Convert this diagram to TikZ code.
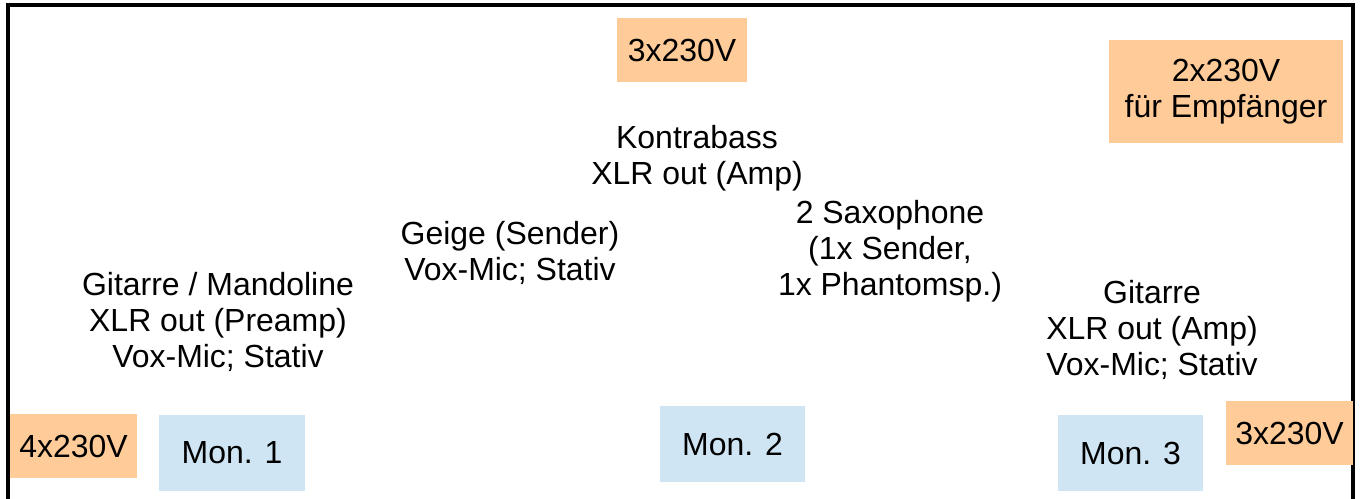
\documentclass[tikz,border=0pt]{standalone}
\usepackage{fontspec}
\setmainfont{Liberation Sans}
\definecolor{powerfill}{HTML}{FFCC99}
\definecolor{monfill}{HTML}{CFE5F3}
\begin{document}
\begin{tikzpicture}
[x=0.02cm,y=-0.02cm,
 every node/.style={font=\fontsize{18.2}{20.4}\selectfont,align=center,inner sep=0pt},
 power/.style={fill=powerfill,minimum width=2.56cm,minimum height=1.28cm},
 monitor/.style={fill=monfill,minimum width=2.92cm,minimum height=1.54cm},
 stageline/.style={line width=2pt,black}]
    \useasboundingbox (0,0) rectangle (1360,499);
    % stage border
    \draw[stageline] (8,499) -- (8,5) -- (1353,5) -- (1353,499);
    % power
    \node[power,minimum width=2.6cm] (pwrback) at (682,50) {3x230V};
    \node[power,minimum width=4.7cm,minimum height=2.06cm] (pwrrecv) at (1226,91.5) {2x230V\\f\"ur Empf\"anger};
    \node[power] (pwrleft) at (73.5,446) {4x230V};
    \node[power] (pwrright) at (1289.5,433) {3x230V};
    % monitors
    \node[monitor] (mon1) at (232,453) {Mon. 1};
    \node[monitor] (mon2) at (732.5,444) {Mon. 2};
    \node[monitor] (mon3) at (1130.5,453) {Mon. 3};
    % instruments
    \node (bass) at (697,158) {Kontrabass\\XLR out (Amp)};
    \node (violin) at (510,253) {Geige (Sender)\\Vox-Mic; Stativ};
    \node (sax) at (890,251) {2 Saxophone\\(1x Sender,\\1x Phantomsp.)};
    \node (guitarleft) at (218,322) {Gitarre / Mandoline\\XLR out (Preamp)\\Vox-Mic; Stativ};
    \node (guitarright) at (1152,330) {Gitarre\\XLR out (Amp)\\Vox-Mic; Stativ};
\end{tikzpicture}
\end{document}
